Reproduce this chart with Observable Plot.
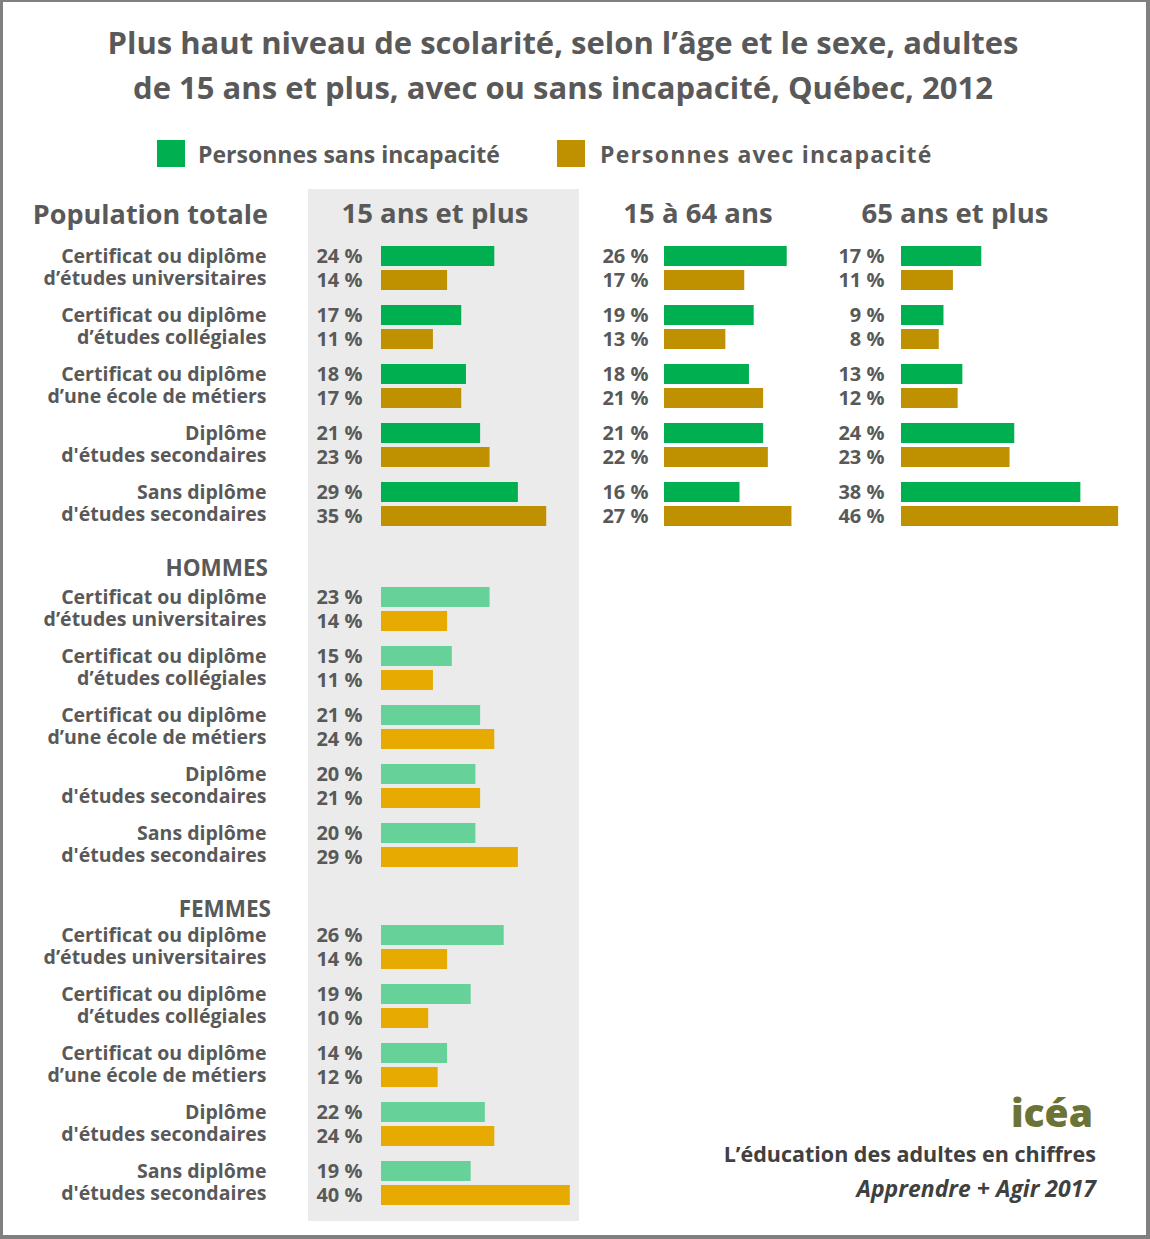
<!DOCTYPE html>
<html lang="fr">
<head>
<meta charset="utf-8">
<script src="https://cdn.jsdelivr.net/npm/d3@7"></script>
<script src="https://cdn.jsdelivr.net/npm/@observablehq/plot@0.6"></script>
<style>
  html, body { margin: 0; padding: 0; background: #fff; }
  #chart { position: relative; width: 1150px; height: 1239px; background: #fff; overflow: hidden;
           font-family: "Open Sans", "Noto Sans", sans-serif; color: #595959; font-weight: 700; }
  .t { position: absolute; line-height: 1; white-space: nowrap; }
  .abs { position: absolute; }
  #frame { position: absolute; left: 0; top: 0; width: 1150px; height: 1239px; box-sizing: border-box;
           border-style: solid; border-color: #808080; border-width: 2px 4px 4px 3px; pointer-events: none; }
</style>
</head>
<body>
<div id="chart"></div>
<script>
// ---------- DATA ----------
const categories = [
  "Certificat ou diplôme\nd’études universitaires",
  "Certificat ou diplôme\nd’études collégiales",
  "Certificat ou diplôme\nd’une école de métiers",
  "Diplôme\nd'études secondaires",
  "Sans diplôme\nd'études secondaires"
];
const seriesKeys = ["sans", "avec"];
const seriesLabels = ["Personnes sans incapacité", "Personnes avec incapacité"];
const panelTitles = ["Population totale", "15 ans et plus", "15 à 64 ans", "65 ans et plus"];
const sectionTitles = ["HOMMES", "FEMMES"];

const total15plusSans = [24, 17, 18, 21, 29];
const total15plusAvec = [14, 11, 17, 23, 35];
const total15to64Sans = [26, 19, 18, 21, 16];
const total15to64Avec = [17, 13, 21, 22, 27];
const total65plusSans = [17, 9, 13, 24, 38];
const total65plusAvec = [11, 8, 12, 23, 46];
const hommesSans = [23, 15, 21, 20, 20];
const hommesAvec = [14, 11, 24, 21, 29];
const femmesSans = [26, 19, 14, 22, 19];
const femmesAvec = [14, 10, 12, 24, 40];

const titleLines = [
  "Plus haut niveau de scolarité, selon l’âge et le sexe, adultes",
  "de 15 ans et plus, avec ou sans incapacité, Québec, 2012"
];
const footerLines = ["L’éducation des adultes en chiffres", "Apprendre + Agir 2017"];

// ---------- STYLE ----------
const FONT = '"Open Sans", "Noto Sans", sans-serif';
const TEXT = "#595959";
const darkColors = ["#00b050", "#bf9000"];
const lightColors = ["#66d199", "#e6aa00"];
const PX = 4.72; // pixels per percentage point

const chart = document.getElementById("chart");

function addText(str, css) {
  const d = document.createElement("div");
  d.className = "t";
  d.textContent = str;
  Object.assign(d.style, css);
  chart.appendChild(d);
  return d;
}

// grey band behind "15 ans et plus"
const band = document.createElement("div");
band.className = "abs";
Object.assign(band.style, {left: "308px", top: "189px", width: "271px", height: "1032px", background: "#ebebeb"});
chart.appendChild(band);

// title
addText(titleLines[0], {left: "0px", width: "1126px", textAlign: "center", top: "27px", fontSize: "31px"});
addText(titleLines[1], {left: "0px", width: "1126px", textAlign: "center", top: "72px", fontSize: "31px"});

// legend
[[157, 198, 0], [557, 600, 1.2]].forEach(([sx, tx, ls], i) => {
  const sw = document.createElement("div");
  sw.className = "abs";
  Object.assign(sw.style, {left: sx + "px", top: "140px", width: "28px", height: "27px", background: darkColors[i]});
  chart.appendChild(sw);
  addText(seriesLabels[i], {left: tx + "px", top: "142.5px", fontSize: "23px", letterSpacing: ls + "px"});
});

// panel headers
addText(panelTitles[0], {right: "882px", top: "200px", fontSize: "27px"});
[[435], [698], [955]].forEach(([cx], i) => {
  addText(panelTitles[i + 1], {left: (cx - 200) + "px", width: "400px", textAlign: "center", top: "199px", fontSize: "27.5px"});
});

// section headers
addText(sectionTitles[0], {right: "882px", top: "557px", fontSize: "22.5px"});
addText(sectionTitles[1], {right: "879px", top: "898px", fontSize: "22.5px"});

// ---------- PANELS ----------
function makePanel({sans, avec, colors, withLabels, marginLeft, width, valueGap}) {
  const rows = categories.flatMap((c, i) => [
    {cat: c, series: "sans", value: sans[i]},
    {cat: c, series: "avec", value: avec[i]}
  ]);
  const fyOpts = {domain: categories, paddingInner: 14.5 / 59.5, paddingOuter: 0};
  if (!withLabels) fyOpts.axis = null;
  const marks = [
    Plot.barX(rows, {x: "value", y: "series", fy: "cat", fill: "series"}),
    Plot.text(rows, {x: 0, y: "series", fy: "cat", text: d => `${d.value} %`, textAnchor: "end",
                     dx: -valueGap, fontSize: 20, fontWeight: "bold", fill: TEXT})
  ];
  if (withLabels) {
    marks.push(Plot.axisFy({anchor: "left", tickSize: 0, tickPadding: marginLeft - 266, label: null,
                            fontSize: 19.5, fontWeight: "bold", fill: TEXT, lineHeight: 1.15, dy: -2}));
  }
  return Plot.plot({
    width, height: 283, marginLeft, marginRight: 0, marginTop: 0, marginBottom: 0,
    style: {background: "transparent", fontFamily: FONT, overflow: "visible", color: TEXT},
    x: {domain: [0, (width - marginLeft) / PX], axis: null},
    y: {domain: seriesKeys, paddingInner: 4 / 24.5, paddingOuter: 0, axis: null},
    fy: fyOpts,
    color: {domain: seriesKeys, range: colors},
    marks
  });
}

function place(svg, left, top) {
  svg.style.position = "absolute";
  svg.style.left = left + "px";
  svg.style.top = top + "px";
  chart.appendChild(svg);
}

place(makePanel({sans: total15plusSans, avec: total15plusAvec, colors: darkColors, withLabels: true,
                 marginLeft: 381, width: 579, valueGap: 19}), 0, 245);
place(makePanel({sans: total15to64Sans, avec: total15to64Avec, colors: darkColors, withLabels: false,
                 marginLeft: 84, width: 84 + 150, valueGap: 16}), 580, 245);
place(makePanel({sans: total65plusSans, avec: total65plusAvec, colors: darkColors, withLabels: false,
                 marginLeft: 71, width: 71 + 236, valueGap: 17}), 830, 245);
place(makePanel({sans: hommesSans, avec: hommesAvec, colors: lightColors, withLabels: true,
                 marginLeft: 381, width: 579, valueGap: 19}), 0, 586);
place(makePanel({sans: femmesSans, avec: femmesAvec, colors: lightColors, withLabels: true,
                 marginLeft: 381, width: 579, valueGap: 19}), 0, 924);

// footer
addText("icéa", {right: "57px", top: "1092px", fontSize: "39px", color: "#6b7436", fontWeight: "800"});
addText(footerLines[0], {right: "54px", top: "1143px", fontSize: "21.5px", color: "#404040"});
addText(footerLines[1], {right: "54px", top: "1177px", fontSize: "23px", color: "#404040", fontStyle: "italic"});

// border
const frame = document.createElement("div");
frame.id = "frame";
chart.appendChild(frame);
</script>
</body>
</html>
